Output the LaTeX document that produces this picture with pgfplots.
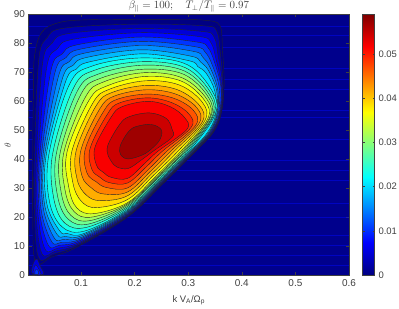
\documentclass[border=0pt]{standalone}
\usepackage{fontspec}
\setmainfont{Liberation Sans}
\usepackage{pgfplots}
\pgfplotsset{compat=1.18}
\pgfplotsset{colormap={myjet}{rgb255(0pt)=(0,0,128); rgb255(1pt)=(0,0,255); rgb255(3pt)=(0,255,255); rgb255(5pt)=(255,255,0); rgb255(7pt)=(255,0,0); rgb255(8pt)=(128,0,0)}}
\definecolor{axc}{rgb}{0.25,0.25,0.25}
\definecolor{navy0}{rgb}{0,0,0.55}
\newcommand\band[2]{\addplot[color of colormap={#1 of myjet},fill=.,draw=black!85,line width=.4bp,smooth cycle,tension=.6] coordinates {#2};}
\newcommand\stripe[1]{\addplot[color={rgb:red,0;green,6;blue,165;black,0},line width=.5bp,opacity=.5] coordinates {(0,#1)(.6,#1)};}
\begin{document}
\begin{tikzpicture}
\useasboundingbox (-28.5bp,-34bp) rectangle (370.5bp,275bp);
\begin{axis}[
  scale only axis, width=320.5bp, height=260.5bp,
  xmin=0.002, xmax=0.6, ymin=0, ymax=90,
  axis background/.style={fill=navy0},
  xtick={0.1,0.2,0.3,0.4,0.5,0.6}, xticklabels={0.1,0.2,0.3,0.4,0.5,0.6},
  ytick={0,10,20,30,40,50,60,70,80,90}, yticklabels={0,10,20,30,40,50,60,70,80,90},
  tick align=inside, major tick length=3bp, tick style={color=axc,line width=.5bp},
  axis line style={color=axc,line width=.6bp},
  every tick label/.append style={font=\fontsize{10}{12}\selectfont,text=axc},
  xticklabel style={yshift=-1bp}, yticklabel style={xshift=0bp},
  xlabel={k V\textsubscript{A}/Ω\textsubscript{p}},
  ylabel={$\theta$},
  xlabel style={font=\fontsize{9.5}{11}\selectfont,text=axc,at={(axis description cs:0.5,0)},anchor=north,yshift=-17bp},
  ylabel style={font=\fontsize{9}{11}\selectfont,text=axc,at={(axis description cs:0,0.5)},anchor=south,yshift=14bp},
  title={$\beta_\parallel=100;\quad T_\perp/T_\parallel=0.97$},
  title style={font=\fontsize{10.5}{12}\selectfont,text=axc,at={(axis description cs:0.5,1)},anchor=south,yshift=-7bp},
  point meta min=0, point meta max=0.059,
  colormap name=myjet,
  colorbar,
  colorbar style={
    at={(parent axis.north east)},anchor=north west,xshift=5bp,
    scale only axis,width=12bp,height=260.5bp,
    scaled y ticks=false,
    ytick={0,0.01,0.02,0.03,0.04,0.05},
    yticklabels={0,0.01,0.02,0.03,0.04,0.05},
    tick align=inside,major tick length=2bp,
    yticklabel style={font=\fontsize{9.5}{11}\selectfont,text=axc,xshift=0.5bp},
    axis line style={color=axc,line width=.5bp},
    tick style={color=axc,line width=.4bp},
  },
]
\stripe{86}\stripe{83}\stripe{78.8}\stripe{71.5}\stripe{67.7}\stripe{64.3}\stripe{57}\stripe{54.6}\stripe{47}\stripe{39.7}\stripe{36.3}\stripe{32.8}\stripe{24.9}\stripe{20}\stripe{13.8}\stripe{10.4}\stripe{6.9}\stripe{3.5}
% contours, outermost first
\band{3}{(.010,40.7)(.011,61.4)(.013,75.2)(.027,83.9)(.061,87.3)(.117,88.2)(.205,88.2)(.286,88.2)(.332,88)(.359,86.2)(.364,77.5)(.367,66)(.362,56.2)(.348,49.6)(.317,43.3)(.251,31.2)(.186,19.9)(.092,9.6)(.046,6.3)(.015,4.4)(.010,21.1)}
\band{44}{(.013,40.8)(.021,74.1)(.037,82)(.069,85.3)(.206,86.7)(.328,86.1)(.353,84.3)(.360,76.5)(.365,65.7)(.361,56.1)(.347,49.5)(.316,43.3)(.250,31.3)(.186,20.2)(.094,10.2)(.050,7.3)(.021,5.9)(.013,21.5)}
\band{88}{(.017,40.9)(.028,72.9)(.046,80.1)(.076,83.4)(.207,85.2)(.324,84.2)(.348,82.3)(.356,75.5)(.364,65.5)(.360,56)(.345,49.4)(.315,43.3)(.250,31.5)(.186,20.4)(.095,10.7)(.053,8.3)(.027,7.4)(.016,21.9)}
\band{132}{(.020,41)(.036,71.8)(.056,78.2)(.084,81.4)(.208,83.7)(.320,82.4)(.342,80.4)(.352,74.5)(.362,65.2)(.359,55.9)(.344,49.4)(.313,43.3)(.249,31.6)(.186,20.7)(.097,11.3)(.057,9.3)(.033,8.9)(.019,22.4)}
\band{176}{(.023,41.1)(.044,70.7)(.065,76.4)(.092,79.5)(.209,82.2)(.316,80.5)(.337,78.5)(.349,73.5)(.361,65)(.358,55.8)(.342,49.3)(.312,43.3)(.249,31.8)(.186,21)(.098,11.9)(.060,10.3)(.039,10.3)(.022,22.8)}
\band{220}{(.026,41.2)(.051,69.7)(.072,75.1)(.098,78)(.210,80.7)(.312,78.9)(.332,76.9)(.345,72.5)(.358,64.5)(.356,55.7)(.340,49.2)(.311,43.2)(.248,31.9)(.186,21.3)(.100,12.5)(.064,11.3)(.045,11.6)(.025,23.3)}
\band{264}{(.029,41.3)(.058,68.7)(.078,73.7)(.103,76.5)(.211,79.3)(.309,77.3)(.327,75.3)(.341,71.6)(.355,64.1)(.354,55.5)(.339,49.1)(.309,43.2)(.247,32.1)(.186,21.6)(.102,13.1)(.068,12.3)(.050,12.8)(.029,23.8)}
\band{308}{(.032,41.3)(.065,67.7)(.085,72.4)(.109,75.1)(.212,77.8)(.305,75.6)(.323,73.6)(.338,70.6)(.353,63.7)(.353,55.3)(.337,49)(.307,43.2)(.246,32.2)(.186,21.9)(.103,13.7)(.071,13.3)(.055,14.1)(.032,24.3)}
\band{352}{(.035,41.4)(.071,66.7)(.091,71.1)(.115,73.6)(.214,76.4)(.302,74)(.318,72)(.334,69.6)(.350,63.3)(.351,55.2)(.335,49)(.306,43.2)(.246,32.4)(.186,22.2)(.105,14.3)(.075,14.3)(.060,15.3)(.036,24.8)}
\band{397}{(.040,41.6)(.078,65.7)(.121,72.2)(.214,75)(.299,72.6)(.347,62.8)(.349,55)(.303,43.2)(.245,32.6)(.186,22.6)(.107,15.2)(.065,16.6)(.041,25.5)}
\band{441}{(.047,41.8)(.086,64.6)(.126,70.8)(.215,73.7)(.296,71.5)(.344,62.3)(.346,54.7)(.300,43.2)(.244,32.9)(.186,23.1)(.111,16.5)(.070,17.9)(.049,26.6)}
\band{485}{(.054,42)(.093,63.5)(.132,69.4)(.216,72.5)(.294,70.4)(.341,61.8)(.344,54.5)(.297,43.2)(.242,33.2)(.186,23.6)(.114,17.6)(.076,19.3)(.056,27.5)}
\band{529}{(.061,42.2)(.100,62.5)(.137,68)(.217,71.1)(.292,69.3)(.338,61.3)(.341,54.3)(.294,43.1)(.241,33.4)(.186,24.1)(.117,18.8)(.081,20.6)(.063,28.5)}
\band{573}{(.068,42.4)(.108,61.4)(.142,66.7)(.218,69.9)(.289,68.1)(.335,60.7)(.339,54)(.291,43.1)(.240,33.7)(.186,24.5)(.120,20)(.087,21.9)(.070,29.5)}
\band{617}{(.074,42.6)(.115,60.4)(.148,65.3)(.219,68.6)(.287,67)(.331,60.2)(.336,53.8)(.288,43.1)(.239,34)(.187,25)(.124,21.2)(.092,23.2)(.077,30.5)}
\band{661}{(.083,42.8)(.122,59.4)(.152,64.1)(.220,67.1)(.284,65.6)(.327,59.5)(.331,53.3)(.282,43)(.236,34.6)(.187,26.1)(.129,23.3)(.101,25.4)(.085,31.7)}
\band{705}{(.091,43)(.128,58.4)(.157,63)(.221,65.5)(.280,64)(.321,58.6)(.326,52.8)(.275,43)(.233,35.2)(.187,27.4)(.136,25.7)(.110,27.6)(.093,32.9)}
\band{749}{(.100,43.3)(.135,57.4)(.162,61.8)(.222,64)(.277,62.5)(.316,57.8)(.320,52.3)(.268,42.9)(.230,35.9)(.187,28.7)(.142,28)(.120,30)(.102,34.1)}
\band{793}{(.108,43.6)(.142,56.5)(.166,60.6)(.223,62.5)(.274,61)(.310,56.8)(.314,51.7)(.261,42.9)(.227,36.7)(.187,30.1)(.148,30.2)(.129,32.1)(.111,35.3)}
\band{837}{(.117,43.8)(.149,55.5)(.171,59.4)(.224,61.2)(.270,59.5)(.302,55.5)(.305,50.9)(.252,42.8)(.223,37.6)(.187,31.8)(.153,31.9)(.135,33.8)(.120,36.6)}
\band{881}{(.126,44.1)(.156,54.5)(.176,58.1)(.225,60)(.267,58.1)(.294,54.2)(.297,50.2)(.243,42.7)(.219,38.6)(.187,33.4)(.157,33.7)(.142,35.4)(.129,37.9)}
\band{925}{(.150,44.8)(.172,52)(.190,54.7)(.228,56)(.259,54.1)(.270,50.3)(.270,47.6)(.234,42.7)(.213,39.8)(.188,36.8)(.167,37.3)(.157,39.1)(.151,41)}
\band{969}{(.175,45.5)(.189,49.6)(.203,51.3)(.231,52)(.250,50.1)(.246,46.4)(.225,42.6)(.208,41)(.188,40.1)(.177,40.9)(.172,42.7)}
% small lobe at the lower left corner
\band{88}{(.010,.2)(.008,2)(.012,4.5)(.018,5.5)(.024,3)(.030,.3)}
\band{132}{(.012,.2)(.011,1.5)(.015,3.5)(.020,2.5)(.025,.2)}
\band{176}{(.014,.3)(.015,1.8)(.019,1.8)(.021,.3)}
\end{axis}
\end{tikzpicture}
\end{document}
